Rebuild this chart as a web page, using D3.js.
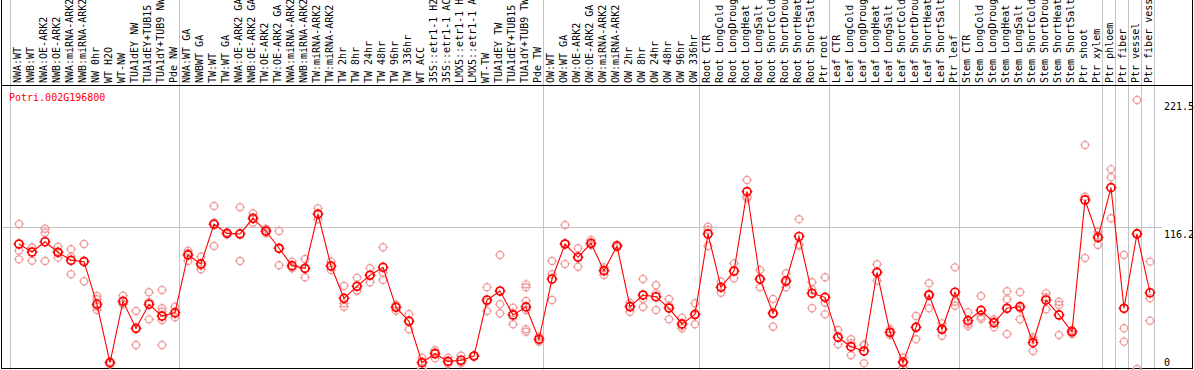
<!DOCTYPE html>
<html lang="en">
<head>
<meta charset="UTF-8">
<title>Potri.002G196800</title>
<style>
  body { margin: 0; background: #fff; }
  text { font-family: "DejaVu Sans Mono", monospace; font-size: 10px; }
</style>
</head>
<body>
<svg id="chart" width="1194" height="370"></svg>

<script src="https://d3js.org/d3.v7.min.js"></script>
<script>
  const gene = "Potri.002G196800"

  const labels = [
    "NWA:WT", "NWB:WT", "NWA:OE-ARK2", "NWB:OE-ARK2", "NWA:miRNA-ARK2", "NWB:miRNA-ARK2",
    "NW 0hr", "WT H2O", "WT-NW", "TUA1dEY NW", "TUA1dEY+TUB15", "TUA1dY+TUB9 NW", "Pde NW",
    "NWA:WT GA", "NWBWT GA", "TW:WT", "TW:WT GA", "NWA:OE-ARK2 GA", "NWB:OE-ARK2 GA",
    "TW:OE-ARK2", "TW:OE-ARK2 GA", "NWA:miRNA-ARK2", "NWB:miRNA-ARK2", "TW:miRNA-ARK2", "TW:miRNA-ARK2",
    "TW 2hr", "TW 8hr", "TW 24hr", "TW 48hr", "TW 96hr", "TW 336hr", "WT ACC",
    "35S::etr1-1 H2", "35S::etr1-1 AC", "LMX5::etr1-1 H", "LMX5::etr1-1 A",
    "WT-TW", "TUA1dEY TW", "TUA1dEY+TUB15", "TUA1dY+TUB9 TW", "Pde TW",
    "OW:WT", "OW:WT GA", "OW:OE-ARK2", "OW:OE-ARK2 GA", "OW:miRNA-ARK2", "OW:miRNA-ARK2",
    "OW 2hr", "OW 8hr", "OW 24hr", "OW 48hr", "OW 96hr", "OW 336hr",
    "Root CTR", "Root LongCold", "Root LongDroug", "Root LongHeat", "Root LongSalt",
    "Root ShortCold", "Root ShortDrou", "Root ShortHeat", "Root ShortSalt", "Ptr root",
    "Leaf CTR", "Leaf LongCold", "Leaf LongDroug", "Leaf LongHeat", "Leaf LongSalt",
    "Leaf ShortCold", "Leaf ShortDrou", "Leaf ShortHeat", "Leaf ShortSalt", "Ptr leaf",
    "Stem CTR", "Stem LongCold", "Stem LongDroug", "Stem LongHeat", "Stem LongSalt",
    "Stem ShortCold", "Stem ShortDrou", "Stem ShortHeat", "Stem ShortSalt",
    "Ptr shoot", "Ptr xylem", "Ptr phloem", "Ptr fiber", "Ptr vessel", "Ptr fiber vess"
  ]

  const means = [
    102.9, 96.3, 104.8, 96.1, 89.5, 88.4, 53.3, 5.2, 55.7, 33.5, 53.3, 43.6, 46.4,
    93.9, 86.5, 119.2, 111.7, 111.2, 124.1, 113.6, 99.4, 85.1, 82.9, 127.6, 84.8,
    58.2, 68.1, 77.2, 83.7, 50.8, 39.3, 5.2, 12.6, 6.3, 7.2, 10.7, 56.8, 64.2, 44.5, 51.1, 24.5,
    74.1, 102.9, 92.0, 103.5, 80.9, 101.3, 51.3, 60.9, 59.5, 50.2, 37.1, 45.0,
    111.2, 67.3, 80.7, 146.0, 74.1, 45.9, 72.5, 109.1, 62.3, 59.0,
    26.1, 18.4, 14.8, 79.6, 30.2, 5.5, 34.3, 60.9, 32.7, 63.2,
    39.8, 48.3, 38.1, 50.0, 51.3, 21.7, 56.8, 44.5, 30.7, 139.2, 108.3, 149.3, 50.0, 111.2, 62.8
  ]

  const reps = [
    [119.4, 97.4, 90.3], [99.9, 89.2, 99.8], [115.5, 112.2, 88.9], [100.7, 91.7, 96.0],
    [98.6, 92.5, 78.0], [102.9, 89.2, 72.2], [60.1, 57.4, 51.3, 48.6], [6.0, 3.9, 5.6],
    [60.4, 53.3, 53.5], [47.8, 19.8, 33.0], [63.2, 55.2, 40.9], [65.1, 50.0, 47.2, 40.3, 19.8],
    [51.3, 42.6, 45.2],
    [97.4, 95.5, 89.0], [92.5, 82.1, 84.9], [134.2, 120.5, 101.3], [112.5, 111.0, 111.6],
    [133.2, 88.9, 111.5], [128.2, 120.5, 123.6], [115.5, 111.7, 113.6], [113.6, 85.4, 99.2],
    [88.4, 82.9, 84.0], [90.6, 75.5, 82.6], [132.3, 123.3, 127.2], [88.4, 81.5, 84.5],
    [68.3, 54.1, 51.3], [75.2, 64.5, 64.6], [82.9, 71.4, 77.3], [100.2, 79.3, 73.3],
    [53.0, 48.0, 51.4], [45.3, 32.7, 39.9], [9.3, 0.6, 5.7], [15.4, 8.8, 13.6],
    [9.3, 4.1, 5.5], [11.0, 4.7, 5.9], [11.2, 10.2, 10.7], [67.3, 47.8, 55.3],
    [93.9, 53.3, 45.9], [50.5, 36.8, 46.2], [69.7, 67.3, 56.0, 48.6, 32.7, 30.7], [26.6, 22.5, 24.4],
    [88.9, 78.0, 56.8], [118.6, 86.5, 103.6], [99.4, 84.2, 92.4], [106.2, 102.1, 102.2],
    [83.7, 77.4, 81.6], [102.3, 100.3, 101.3], [54.6, 47.2, 52.1], [74.1, 57.6, 51.1],
    [68.9, 62.3, 48.6], [57.6, 40.9, 52.1], [42.2, 33.5, 35.6], [54.1, 36.8, 44.1],
    [117.2, 114.5, 101.3], [71.9, 62.8, 67.2], [87.0, 74.7, 80.4], [155.6, 141.9, 140.5],
    [81.5, 67.3, 73.5], [57.6, 34.8, 45.3], [78.8, 67.3, 71.4], [123.4, 101.5, 102.4],
    [71.4, 50.0, 65.5], [75.5, 54.6, 45.0],
    [32.1, 20.3, 25.9], [24.5, 21.2, 11.3], [19.8, 4.7, 19.9], [86.2, 72.7, 79.9],
    [32.7, 28.0, 29.9], [9.3, 1.2, 6.0], [43.6, 24.5, 34.8], [70.6, 50.0, 62.1],
    [37.6, 27.4, 33.1], [83.7, 55.4, 52.1],
    [46.7, 35.4, 37.3], [60.1, 43.1, 41.2], [40.9, 34.3, 39.1], [64.0, 57.4, 28.8],
    [63.2, 40.9, 49.8], [26.1, 14.8, 24.2], [62.3, 49.2, 58.9], [55.4, 52.7, 28.0],
    [28.8, 31.5, 32.0], [184.5, 141.9, 91.4], [113.1, 102.1, 109.7], [164.4, 157.9, 124.1],
    [93.9, 33.5, 22.5], [221.5, 0, 112.0], [88.4, 58.2, 39.8]
  ]

  const yTicks = [221.5, 116.2, 0]
  const gridValue = 116.2
  // vertical separators, as column indices
  const groupStarts = [0, 13, 41, 53, 63, 73, 84, 85, 86, 87, 88]

  const W = 1194, H = 370
  const headerBottom = 85
  const svg = d3.select("#chart")

  const x = d3.scaleBand()
    .domain(d3.range(labels.length))
    .range([11, 1155])
  const y = d3.scaleLinear()
    .domain([0, 221.5])
    .range([369, 100])
  const cx = i => x(i) + 8
  const colEdge = i => i < labels.length ? x(i) : x.range()[1]

  // grey separators
  svg.selectAll("line.vgrid")
    .data(groupStarts)
    .enter()
    .append("line")
    .attr("class", "vgrid")
    .attr("x1", d => Math.round(colEdge(d)) - 0.5)
    .attr("x2", d => Math.round(colEdge(d)) - 0.5)
    .attr("y1", 0)
    .attr("y2", H)
    .attr("stroke", "#c4c4c4")

  svg.append("line")
    .attr("x1", 1).attr("x2", 1162)
    .attr("y1", Math.floor(y(gridValue)) + 0.5)
    .attr("y2", Math.floor(y(gridValue)) + 0.5)
    .attr("stroke", "#c4c4c4")

  // frame
  svg.append("line").attr("x1", 1.5).attr("x2", 1.5).attr("y1", 0).attr("y2", 369).attr("stroke", "#000")
  svg.append("line").attr("x1", 1192.5).attr("x2", 1192.5).attr("y1", 0).attr("y2", 369).attr("stroke", "#000")
  svg.append("line").attr("x1", 1).attr("x2", 1193).attr("y1", headerBottom + 0.5).attr("y2", headerBottom + 0.5).attr("stroke", "#000")
  svg.append("line").attr("x1", 1).attr("x2", 1193).attr("y1", 368.5).attr("y2", 368.5).attr("stroke", "#000")

  // column labels
  svg.selectAll("text.col")
    .data(labels)
    .enter()
    .append("text")
    .attr("class", "col")
    .attr("transform", (d, i) => `translate(${x(i) + 9.5},${headerBottom - 2}) rotate(-90)`)
    .attr("fill", "#000")
    .text(d => d)

  // y labels
  svg.selectAll("text.ytick")
    .data(yTicks)
    .enter()
    .append("text")
    .attr("class", "ytick")
    .attr("x", 1164)
    .attr("y", d => Math.min(y(d) + 10, 366))
    .attr("fill", "#000")
    .text(d => d)

  svg.append("text")
    .attr("x", 9)
    .attr("y", 101)
    .attr("fill", "#ff0000")
    .text(gene)

  function marker(g, px, py, r, color, sw) {
    g.append("circle")
      .attr("cx", px).attr("cy", py).attr("r", r)
      .attr("fill", "none").attr("stroke", color).attr("stroke-width", sw)
    const t = [[0, -1], [0, 1], [-1, 0], [1, 0]]
    t.forEach(([dx, dy]) => {
      g.append("line")
        .attr("x1", px + dx * (r - 1)).attr("y1", py + dy * (r - 1))
        .attr("x2", px + dx * (r + 1.5)).attr("y2", py + dy * (r + 1.5))
        .attr("stroke", color).attr("stroke-width", 1)
    })
  }

  const repLayer = svg.append("g")
  reps.forEach((vals, i) => {
    vals.forEach(v => marker(repLayer, cx(i), y(v), 3.6, "#f09a9a", 1.2))
  })

  svg.append("path")
    .datum(means)
    .attr("fill", "none")
    .attr("stroke", "#ff0000")
    .attr("stroke-width", 1.1)
    .attr("d", d3.line().x((d, i) => cx(i)).y(d => y(d)))

  const meanLayer = svg.append("g")
  means.forEach((v, i) => marker(meanLayer, cx(i), y(v), 4, "#ff0000", 1.7))
</script>
</body>
</html>
